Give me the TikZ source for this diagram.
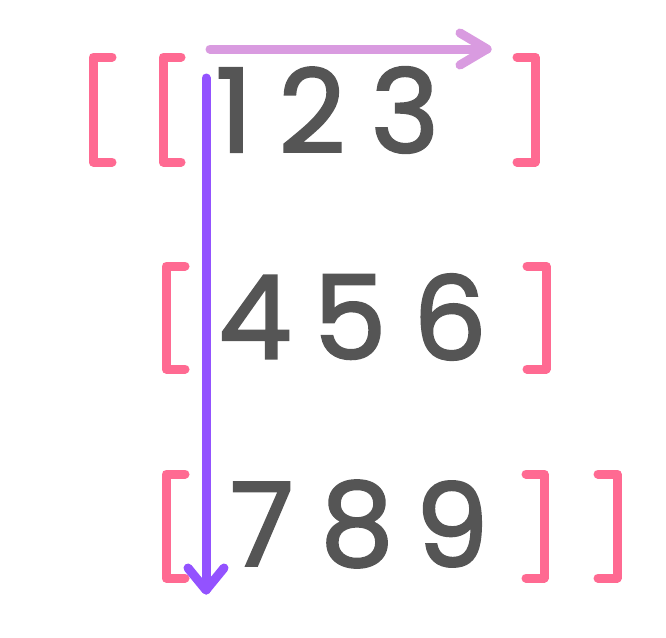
\documentclass[tikz,border=0pt]{standalone}
\usepackage{fontspec}
\setmainfont{Poppins}
\newfontfamily\digfont[FakeBold=2]{Poppins}
\usetikzlibrary{calc}
\definecolor{brk}{HTML}{FF6A92}
\definecolor{dig}{HTML}{555555}
\definecolor{rowarr}{HTML}{D99BE0}
\definecolor{colarr}{HTML}{9352FF}
\begin{document}
\begin{tikzpicture}[x=1pt,y=-1pt,
  brkline/.style={draw=brk,line width=9pt,line cap=round,line join=round},
  digit/.style={text=dig,font=\digfont\fontsize{116}{116}\selectfont,inner sep=0pt,anchor=center},
  arr/.style={line width=9pt,line cap=round,line join=round}]
\useasboundingbox (0,0) rectangle (666,637);
% brackets
\draw[brkline] (112,57) -- (93,57) -- (93,162) -- (112,162);
\draw[brkline] (181,57) -- (163,57) -- (163,162) -- (181,162);
\draw[brkline] (517,57) -- (535,57) -- (535,162) -- (517,162);
\draw[brkline] (185,266) -- (166,266) -- (166,369) -- (185,369);
\draw[brkline] (527,266) -- (546,266) -- (546,369) -- (527,369);
\draw[brkline] (185,474) -- (166,474) -- (166,578) -- (185,578);
\draw[brkline] (526,474) -- (544,474) -- (544,578) -- (526,578);
\draw[brkline] (598,474) -- (617,474) -- (617,578) -- (598,578);
% digits
\node[digit] (d1) at (234,110) {1};
\node[digit] (d2) at (312,110) {2};
\node[digit] (d3) at (405,110) {3};
\node[digit] (d4) at (255,317) {4};
\node[digit] (d5) at (350,317) {5};
\node[digit] (d6) at (450,317) {6};
\node[digit] (d7) at (262,524) {7};
\node[digit] (d8) at (357,524) {8};
\node[digit] (d9) at (452,524) {9};
% arrows
\coordinate (rs) at (210,49);
\coordinate (re) at (487,49);
\coordinate (cs) at (206,78);
\coordinate (ce) at (206,590);
\draw[arr,draw=rowarr] (rs) -- (re);
\draw[arr,draw=rowarr] ($(re)+(-27,-16)$) -- (re) -- ($(re)+(-27,16)$);
\draw[arr,draw=colarr] (cs) -- (ce);
\draw[arr,draw=colarr] ($(ce)+(-18,-22)$) -- (ce) -- ($(ce)+(18,-22)$);
\end{tikzpicture}
\end{document}
